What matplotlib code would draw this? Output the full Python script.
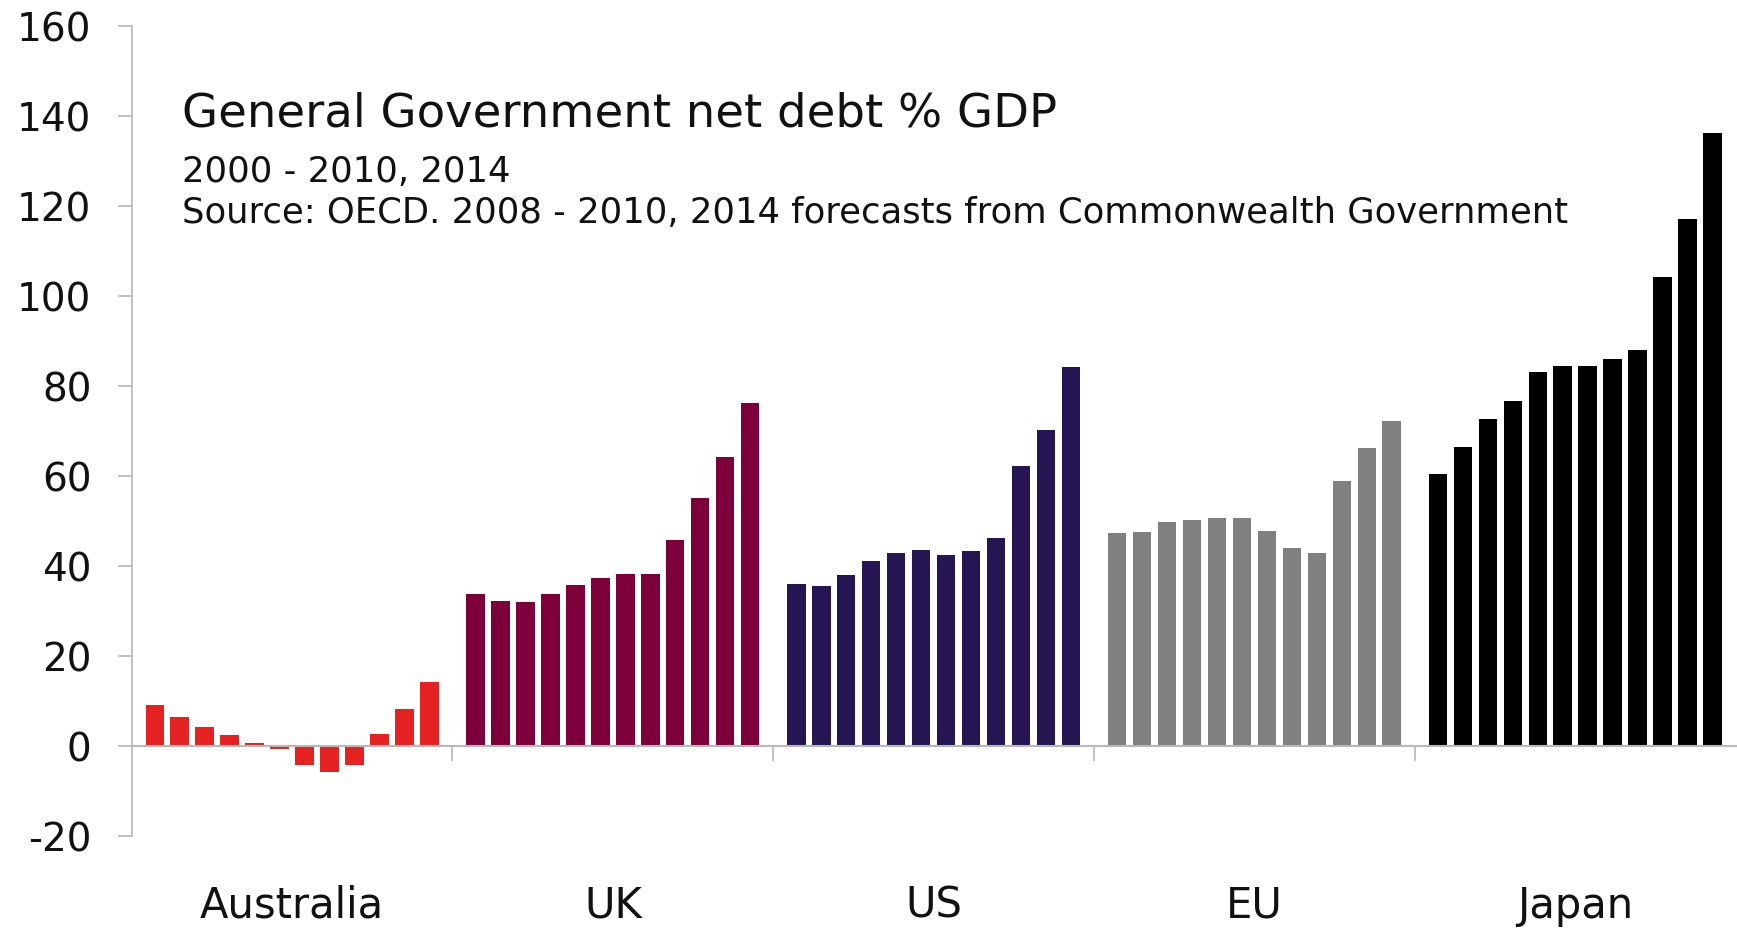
import matplotlib.pyplot as plt
import matplotlib.transforms as mtransforms
import numpy as np

# General government net debt, % of GDP: 2000-2010 and 2014
countries = ["Australia", "UK", "US", "EU", "Japan"]
years = [2000, 2001, 2002, 2003, 2004, 2005, 2006, 2007, 2008, 2009, 2010, 2014]
australia = [9.0, 6.3, 4.2, 2.4, 0.5, -0.7, -4.2, -5.9, -4.2, 2.6, 8.2, 14.1]
uk = [33.6, 32.1, 31.9, 33.6, 35.6, 37.2, 38.1, 38.1, 45.6, 55.0, 64.1, 76.1]
us = [36.0, 35.4, 37.9, 41.1, 42.9, 43.4, 42.4, 43.2, 46.1, 62.1, 70.2, 84.1]
eu = [47.3, 47.5, 49.6, 50.2, 50.7, 50.7, 47.8, 44.0, 42.9, 58.9, 66.1, 72.1]
japan = [60.3, 66.3, 72.6, 76.6, 83.0, 84.4, 84.4, 85.9, 88.0, 104.2, 117.0, 136.2]
series = [australia, uk, us, eu, japan]
colors = ["#e42222", "#7d003a", "#251553", "#808080", "#000000"]

title = "General Government net debt % GDP"
subtitle = "2000 - 2010, 2014"
source = "Source: OECD. 2008 - 2010, 2014 forecasts from Commonwealth Government"

plt.rcParams['font.family'] = 'DejaVu Sans'
plt.rcParams['axes.unicode_minus'] = False
axis_grey = "#b8b8b8"

fig = plt.figure(figsize=(17.37, 9.29), dpi=100)
ax = fig.add_axes([0.0758, 0.0994, 0.9234, 0.8719])

group_w = 12.85
n = len(years)
first = (group_w - (n - 1)) / 2
for g, (vals, col) in enumerate(zip(series, colors)):
    x = g * group_w + first + np.arange(n)
    ax.bar(x, vals, width=0.74, color=col, linewidth=0)

ax.set_xlim(0, len(countries) * group_w)
ax.set_ylim(-20, 160)
ax.set_yticks(np.arange(-20, 161, 20))

for side in ["top", "right"]:
    ax.spines[side].set_visible(False)
ax.spines['left'].set_color(axis_grey)
ax.spines['left'].set_linewidth(1.2)
ax.spines['bottom'].set_position(('data', 0))
ax.spines['bottom'].set_color(axis_grey)
ax.spines['bottom'].set_linewidth(1.5)

ax.tick_params(axis='y', length=10, width=1.2, color=axis_grey, pad=19,
               labelsize=28, labelcolor="#111111")
ax.set_xticks([])
ax.set_xticks(np.arange(1, len(countries)) * group_w, minor=True)
ax.tick_params(axis='x', which='minor', direction='out', length=11,
               width=1.2, color=axis_grey)

trans = mtransforms.blended_transform_factory(ax.transData, fig.transFigure)
for g, name in enumerate(countries):
    ax.text((g + 0.5) * group_w, 1 - 918 / 929, name, transform=trans,
            ha='center', va='baseline', fontsize=30, color="#111111",
            clip_on=False)

fig.text(0.1046, 1 - 126.7 / 929, title, fontsize=33.5, va='baseline',
         color="#111111")
fig.text(0.1046, 1 - 181.7 / 929, subtitle, fontsize=25.5, va='baseline',
         color="#111111")
fig.text(0.1046, 1 - 222.7 / 929, source, fontsize=25.5, va='baseline',
         color="#111111")

fig.savefig("out.png", dpi=100)
